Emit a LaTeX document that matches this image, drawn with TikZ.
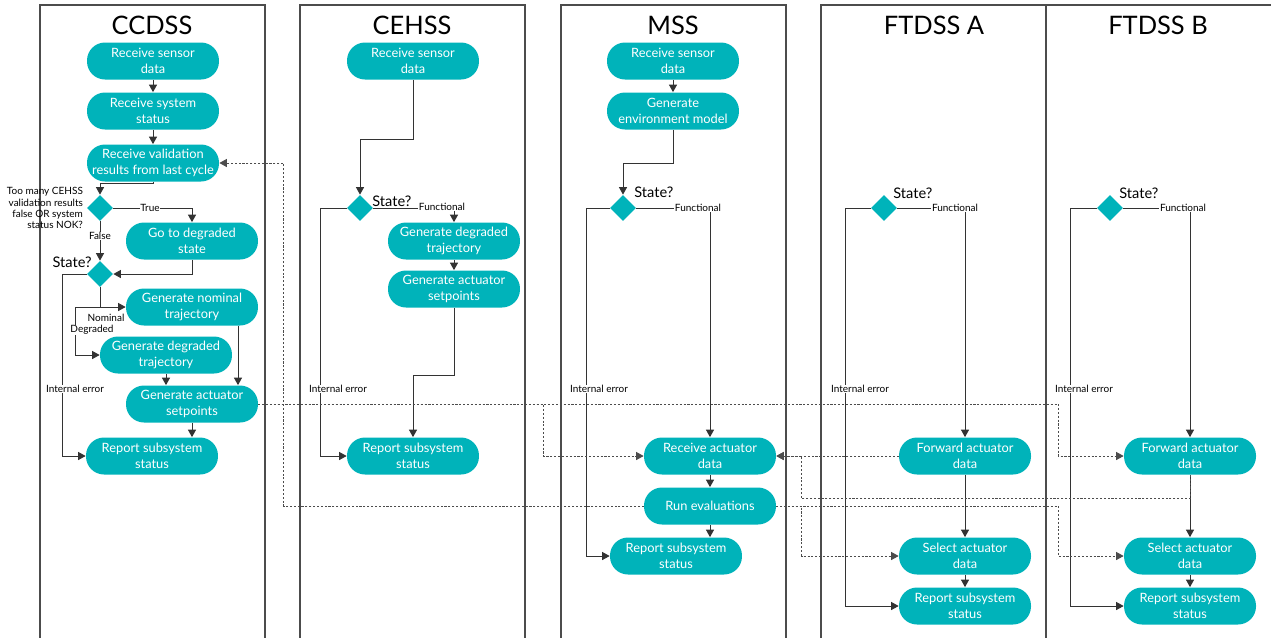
\documentclass[tikz,border=0pt]{standalone}
\usepackage{fontspec}
\setmainfont{Lato}
\usepackage{tikz}
\usetikzlibrary{arrows.meta,shapes.geometric}
\definecolor{boxteal}{RGB}{0,179,186}
\tikzset{
    lane/.style={draw=black!70, line width=0.7pt},
    lanetitle/.style={font=\fontsize{14.5}{16}\selectfont, inner sep=0pt},
    action/.style={rectangle, rounded corners=0.36cm, fill=boxteal, text=white,
        minimum width=2.64cm, minimum height=0.74cm, inner sep=1pt, align=center,
        font=\fontsize{7.3}{9.1}\selectfont},
    decision/.style={diamond, fill=boxteal, minimum size=0.52cm, inner sep=0pt},
    flow/.style={draw=black!80, line width=0.55pt, -{Triangle[length=1.5mm,width=1.6mm]}},
    msg/.style={draw=black!70, line width=0.55pt, dash pattern=on 1.2pt off 1pt,
        -{Triangle[length=1.5mm,width=1.6mm]}},
    lbl/.style={fill=white, inner sep=0.4pt, font=\fontsize{5.7}{6.3}\selectfont},
    statelbl/.style={font=\fontsize{8.3}{10}\selectfont, inner sep=0pt},
}

\begin{document}
\begin{tikzpicture}[x=0.02cm, y=-0.02cm]
\useasboundingbox (0,0) rectangle (1271,637);

% swimlanes
\draw[lane] (40,640) -- (40,5) -- (265,5) -- (265,640);
\draw[lane] (300,640) -- (300,5) -- (525,5) -- (525,640);
\draw[lane] (561,640) -- (561,5) -- (786,5) -- (786,640);
\draw[lane] (821,640) -- (821,5) -- (1046,5) -- (1046,640);
\draw[lane] (1046,5) -- (1272,5);
\node[lanetitle] (t1) at (152,25) {CCDSS};
\node[lanetitle] (t2) at (412,25) {CEHSS};
\node[lanetitle] (t3) at (673,25) {MSS};
\node[lanetitle] (t4) at (934,25) {FTDSS A};
\node[lanetitle] (t5) at (1158,25) {FTDSS B};

% CCDSS
\node[action] (cc1) at (153,61) {Receive sensor\\data};
\node[action] (cc2) at (153,111) {Receive system\\status};
\node[action] (cc3) at (153,163) {Receive validation\\results from last cycle};
\node[decision] (cd1) at (100,208) {};
\node[lbl, fill=none, anchor=east, align=right] (q1) at (84,208)
    {Too many CEHSS\\validation results\\false OR system\\status NOK?};
\node[action] (cc4) at (192,241) {Go to degraded\\state};
\node[decision] (cd2) at (100,274) {};
\node[statelbl, anchor=east] (s1) at (92,262) {State?};
\node[action] (cc5) at (192,307) {Generate nominal\\trajectory};
\node[action] (cc6) at (166,355) {Generate degraded\\trajectory};
\node[action] (cc7) at (192,404) {Generate actuator\\setpoints};
\node[action] (cc8) at (152,456) {Report subsystem\\status};

\draw[flow] (cc1) -- (cc2);
\draw[flow] (cc2) -- (cc3);
\draw[flow] (cc3.south) -- ++(0,2) -| (cd1.north);
\draw[flow] (cd1.east) -| (cc4.north);
\draw[flow] (cd1.south) -- (cd2.north);
\draw[flow] (cc4.south) |- (cd2.east);
\draw[flow] (cd2.west) -- ++(-24,0) |- (cc8.west);
\draw[flow] (cd2.south) |- (cc5.west);
\draw[flow] (cd2.south |- cc5.west) -- ++(-25,0) |- (cc6.west);
\draw[flow] ([xshift=0.92cm]cc5.south) coordinate (j1) -- (j1 |- cc7.north);
\draw[flow] (cc6.south) -- (cc6.south |- cc7.north);
\draw[flow] (cc7.south) -- (cc7.south |- cc8.north);

% CEHSS
\node[action] (ce1) at (413,61) {Receive sensor\\data};
\node[decision] (ced) at (360,208) {};
\node[statelbl, anchor=west] (s2) at (372,201) {State?};
\node[action] (ce2) at (454,241) {Generate degraded\\trajectory};
\node[action] (ce3) at (454,289) {Generate actuator\\setpoints};
\node[action] (ce4) at (413,456) {Report subsystem\\status};

\draw[flow] (ce1.south) -- ++(0,60) -| (ced.north);
\draw[flow] (ced.east) -| (ce2.north);
\draw[flow] (ce2) -- (ce3);
\draw[flow] (ce3.south) -- ++(0,68) -| (ce4.north);
\draw[flow] (ced.west) -- ++(-26,0) |- (ce4.west);

% MSS
\node[action] (ms1) at (673,61) {Receive sensor\\data};
\node[action] (ms2) at (673,111) {Generate\\environment model};
\node[decision] (msd) at (623,208) {};
\node[statelbl, anchor=west] (s3) at (634,192) {State?};
\node[action] (ms3) at (710,456) {Receive actuator\\data};
\node[action] (ms4) at (710,506) {Run evaluations};
\node[action] (ms5) at (676,556) {Report subsystem\\status};

\draw[flow] (ms1) -- (ms2);
\draw[flow] (ms2.south) -- ++(0,34) -| (msd.north);
\draw[flow] (msd.east) -| (ms3.north);
\draw[flow] (ms3) -- (ms4);
\draw[flow] (ms4.south) -- (ms4.south |- ms5.north);
\draw[flow] (msd.west) -- ++(-23,0) |- (ms5.west);

% FTDSS A
\node[decision] (fad) at (884,208) {};
\node[statelbl, anchor=west] (s4) at (893,193) {State?};
\node[action] (fa1) at (965,456) {Forward actuator\\data};
\node[action] (fa2) at (965,556) {Select actuator\\data};
\node[action] (fa3) at (965,606) {Report subsystem\\status};

\draw[flow] (fad.east) -| (fa1.north);
\draw[flow] (fa1) -- (fa2);
\draw[flow] (fa2) -- (fa3);
\draw[flow] (fad.west) -- ++(-25,0) |- (fa3.west);

% FTDSS B
\node[decision] (fbd) at (1110,208) {};
\node[statelbl, anchor=west] (s5) at (1119,193) {State?};
\node[action] (fb1) at (1190,456) {Forward actuator\\data};
\node[action] (fb2) at (1190,556) {Select actuator\\data};
\node[action] (fb3) at (1190,606) {Report subsystem\\status};

\draw[flow] (fbd.east) -| (fb1.north);
\draw[flow] (fb1) -- (fb2);
\draw[flow] (fb2) -- (fb3);
\draw[flow] (fbd.west) -- ++(-26,0) |- (fb3.west);

% messages between subsystems
\draw[msg] (cc7.east) -- ++(285,0) |- (ms3.west);
\draw[msg] (cc7.east) -- ++(800,0) |- (fb1.west);
\draw[msg] (ms4.west) -- ++(-360,0) |- (cc3.east);
\draw[msg] (fa1.west) -- (ms3.east);
\draw[msg] (fb1.south) -- ++(0,24) -| ([xshift=0.5cm]ms3.east) -- (ms3.east);
\draw[msg] (ms4.east) -- ++(25.5,0) |- (fa2.west);
\draw[msg] (ms4.east) -- ++(282,0) |- (fb2.west);

% branch labels
\node[lbl] (b1) at (150,208) {True};
\node[lbl] (b2) at (100,236) {False};
\node[lbl, fill=none] (b3) at (106,318) {Nominal};
\node[lbl] (b4) at (92,330) {Degraded};
\node[lbl] (b5) at (442,207) {Functional};
\node[lbl] (b6) at (698,208) {Functional};
\node[lbl] (b7) at (955,208) {Functional};
\node[lbl] (b8) at (1183,208) {Functional};
\node[lbl] (e1) at (75,389) {Internal error};
\node[lbl] (e2) at (338,389) {Internal error};
\node[lbl] (e3) at (599,389) {Internal error};
\node[lbl] (e4) at (860,389) {Internal error};
\node[lbl] (e5) at (1084,389) {Internal error};
\end{tikzpicture}
\end{document}
